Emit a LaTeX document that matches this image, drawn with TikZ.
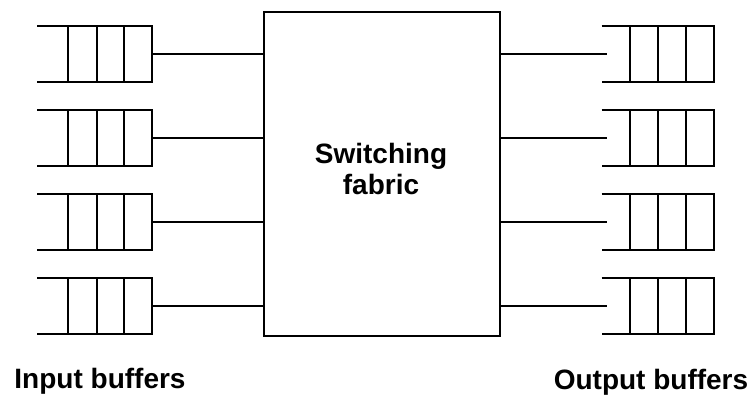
\documentclass[tikz,border=0pt]{standalone}
\usepackage{fontspec}
\setmainfont{Liberation Sans}
\usetikzlibrary{calc}
\begin{document}
\begin{tikzpicture}[x=1pt, y=-1pt, line width=2pt,
  bigtext/.style={font=\bfseries\fontsize{28}{31.7}\selectfont, inner sep=0pt, outer sep=0pt},
  inbuf/.style={rectangle, minimum width=114.7pt, minimum height=56pt, inner sep=0pt, outer sep=0pt},
  outbuf/.style={rectangle, minimum width=112.6pt, minimum height=56pt, inner sep=0pt, outer sep=0pt}]
\useasboundingbox (0,0) rectangle (753,396);

% the switching fabric
\node[draw, rectangle, minimum width=235.7pt, minimum height=324pt, inner sep=0pt, outer sep=0pt,
      anchor=north west] (fabric) at (264.3,11.7) {};
\node[bigtext, align=center] (fabtext) at (381,169) {Switching\\fabric};

\foreach \i in {0,...,3} {
  \pgfmathsetmacro\yc{53.7+84.1*\i}
  % input queue: open on the left, closed on the right
  \node[inbuf] (in\i) at (94.65,\yc) {};
  \draw (in\i.north west) -- (in\i.north east) -- (in\i.south east) -- (in\i.south west);
  \foreach \f in {0.270,0.518,0.758}
    \draw ($(in\i.north west)!\f!(in\i.north east)$) -- ($(in\i.south west)!\f!(in\i.south east)$);
  \draw (in\i.east) -- (in\i.east -| fabric.west);
  % output queue: open on the left, closed on the right
  \node[outbuf] (out\i) at (658,\yc) {};
  \draw (out\i.north west) -- (out\i.north east) -- (out\i.south east) -- (out\i.south west);
  \foreach \f in {0.251,0.503,0.749}
    \draw ($(out\i.north west)!\f!(out\i.north east)$) -- ($(out\i.south west)!\f!(out\i.south east)$);
  \draw (fabric.east |- out\i.west) -- ([xshift=5.3pt]out\i.west);
}

\node[bigtext, anchor=base] (inlabel) at (100,388.5) {Input buffers};
\node[bigtext, anchor=base] (outlabel) at (651,389) {Output buffers};
\end{tikzpicture}
\end{document}
